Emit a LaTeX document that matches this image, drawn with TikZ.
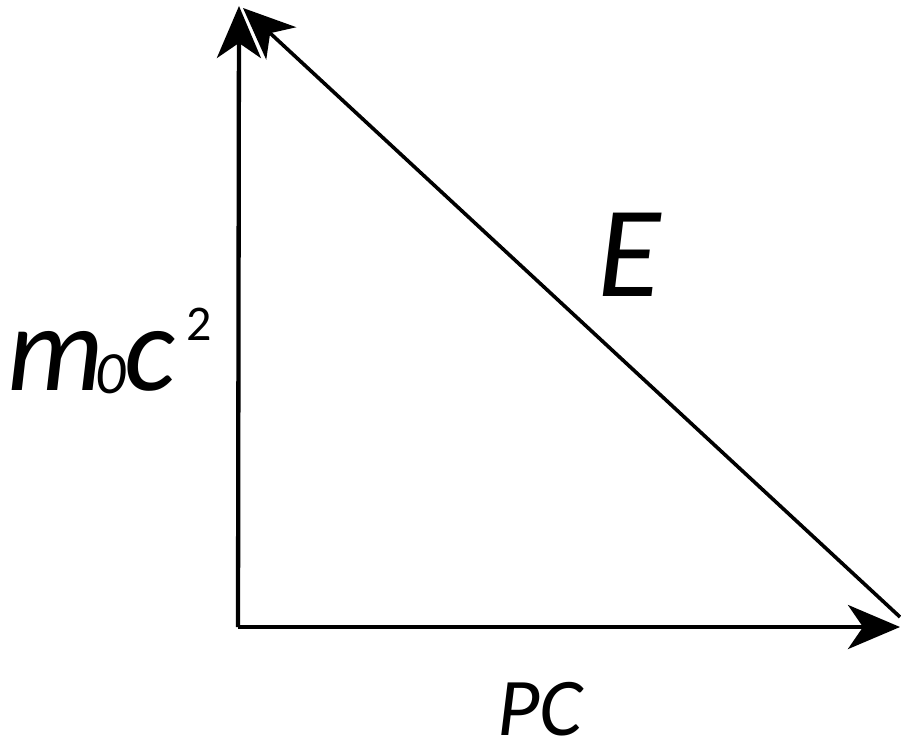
\documentclass[tikz,border=0pt]{standalone}
\usepackage{fontspec}
\setmainfont{Carlito}
\usetikzlibrary{arrows.meta}
\begin{document}
\begin{tikzpicture}[x=1pt,y=-1pt,
  vec/.style={line width=4.3pt,-{Stealth[length=52pt,width=44pt,inset=15pt]}},
  lbl/.style={inner sep=0pt,anchor=base west}]
\useasboundingbox (0,0) rectangle (901,742);
\coordinate (O) at (238,627);
\coordinate (T) at (239,6);
\coordinate (R) at (900,627);
\coordinate (D) at (900,617);
\coordinate (DT) at (243,8);
\draw[vec] (O) -- (T);
\draw[vec] (O) -- (R);
\draw[vec,line width=3.6pt] (D) -- (DT);
\node[lbl] (E) at (597,296) {\fontsize{130}{130}\selectfont\itshape E};
\node[lbl] (PC) at (497,735) {\fontsize{82}{82}\selectfont\itshape PC};
\node[lbl] (mc) at (7,390) {\fontsize{122}{122}\selectfont\itshape m\kern-0.07em\raisebox{-3pt}{\fontsize{60}{60}\selectfont 0}\kern-0.01em c\kern0.09em\raisebox{50pt}{\fontsize{50}{50}\selectfont\upshape 2}};
\end{tikzpicture}
\end{document}
